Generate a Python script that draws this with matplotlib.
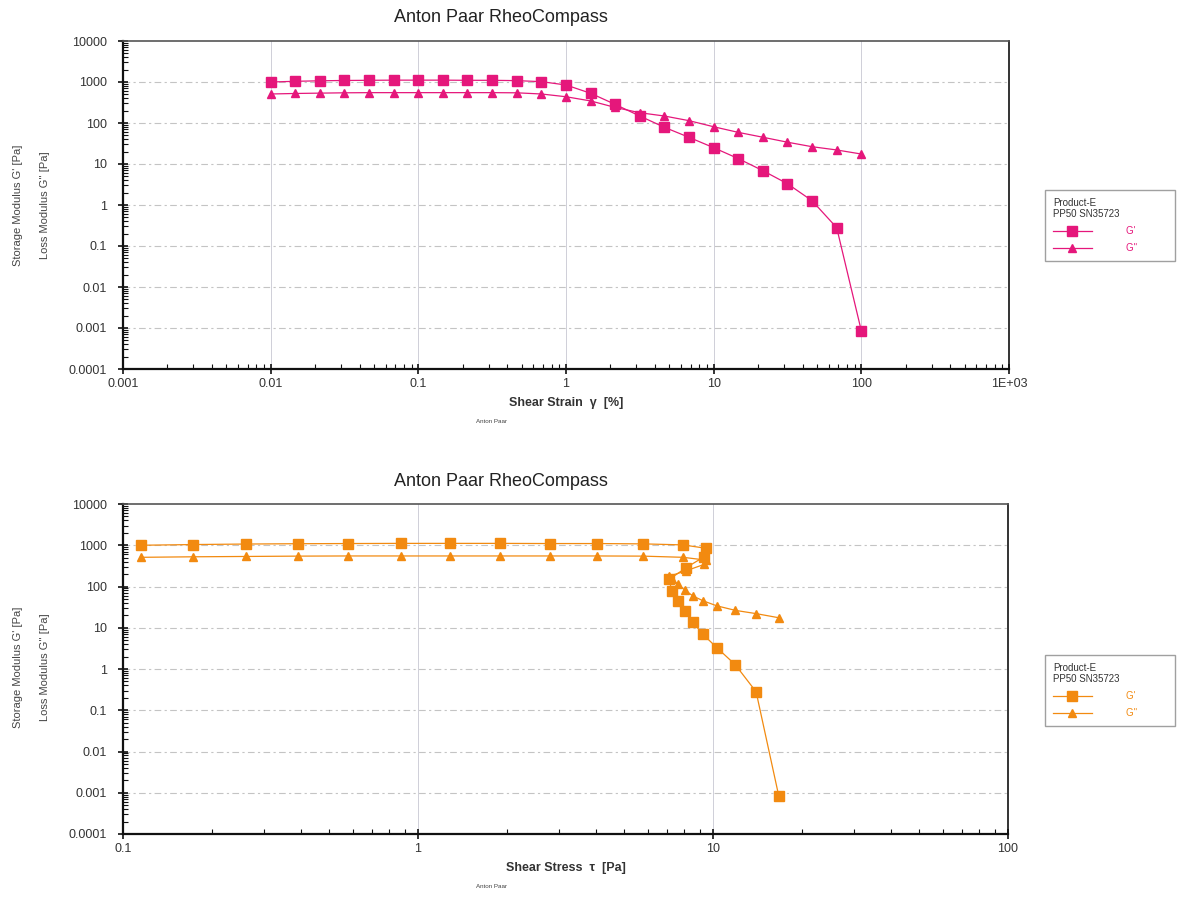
import numpy as np
import matplotlib
matplotlib.use("Agg")
import matplotlib.pyplot as plt
from matplotlib.ticker import LogLocator, FixedLocator, FixedFormatter, NullFormatter

plt.rcParams['font.family'] = ['Liberation Sans', 'DejaVu Sans']

# strain sweep data
strain = [0.01, 0.0147, 0.0215, 0.0316, 0.0464, 0.0681, 0.1, 0.147, 0.215, 0.316,
          0.464, 0.681, 1.0, 1.47, 2.15, 3.16, 4.64, 6.81, 10.0, 14.7,
          21.5, 31.6, 46.4, 68.1, 100.0]
g_storage = [1000, 1040, 1070, 1090, 1100, 1110, 1110, 1110, 1100, 1100,
             1080, 1020, 845, 530, 285, 148, 78.5, 44.7, 25, 13.5,
             6.9, 3.3, 1.27, 0.28, 0.00085]
g_loss = [510, 525, 535, 545, 550, 550, 550, 550, 550, 550,
          545, 510, 437, 345, 240, 178, 148, 114, 81, 59,
          45, 34, 26.4, 22, 17.5]
stress = [0.115, 0.173, 0.261, 0.392, 0.579, 0.876, 1.28, 1.90, 2.80, 4.04,
          5.79, 7.91, 9.46, 9.35, 8.1, 7.1, 7.25, 7.6, 8.04, 8.55,
          9.25, 10.3, 11.9, 14.0, 16.7]

y_ticks = [1e-4, 1e-3, 1e-2, 1e-1, 1, 10, 100, 1000, 10000]
y_labels = ['0.0001', '0.001', '0.01', '0.1', '1', '10', '100', '1000', '10000']
x1_ticks = [1e-3, 1e-2, 1e-1, 1, 10, 100, 1000]
x1_labels = ['0.001', '0.01', '0.1', '1', '10', '100', '1E+03']
x2_ticks = [0.1, 1, 10, 100]
x2_labels = ['0.1', '1', '10', '100']

pink = '#e5177b'
orange = '#f28a10'

W, H = 1185, 899
fig = plt.figure(figsize=(W / 100, H / 100), dpi=100)


def px(x0, y0, x1, y1):
    return [x0 / W, 1 - y1 / H, (x1 - x0) / W, (y1 - y0) / H]


def setup(ax, xticks, xlabels, xlim, xlabel):
    ax.set_xscale('log')
    ax.set_yscale('log')
    ax.set_xlim(xlim)
    ax.set_ylim(1e-4, 1e4)
    ax.yaxis.set_major_locator(FixedLocator(y_ticks))
    ax.yaxis.set_major_formatter(FixedFormatter(y_labels))
    ax.yaxis.set_minor_locator(LogLocator(base=10, subs=np.arange(2, 10), numticks=20))
    ax.yaxis.set_minor_formatter(NullFormatter())
    ax.xaxis.set_major_locator(FixedLocator(xticks))
    ax.xaxis.set_major_formatter(FixedFormatter(xlabels))
    ax.xaxis.set_minor_locator(LogLocator(base=10, subs=np.arange(2, 10), numticks=20))
    ax.xaxis.set_minor_formatter(NullFormatter())
    ax.tick_params(which='major', direction='inout', length=7, width=1.2,
                   labelsize=9, colors='#111111', labelcolor='#333333')
    ax.tick_params(which='minor', direction='in', length=3.5, width=0.8, colors='#111111')
    ax.tick_params(axis='y', which='major', pad=8)
    ax.tick_params(axis='x', which='major', pad=3)
    for s in ['left', 'bottom']:
        ax.spines[s].set_linewidth(1.6)
        ax.spines[s].set_color('#111111')
    ax.spines['right'].set_linewidth(1.2)
    ax.spines['right'].set_color('#111111')
    ax.spines['top'].set_linewidth(1.2)
    ax.spines['top'].set_color('#555555')
    for v in y_ticks[1:-1]:
        ax.axhline(v, color='#c4c4c4', lw=0.8, ls=(0, (6, 3, 2, 3)), zorder=0)
    for v in xticks[1:-1]:
        ax.axvline(v, color='#cfcfd8', lw=0.7, ls='-', zorder=0)
    ax.set_xlabel(xlabel, fontsize=9, fontweight='bold', color='#333333', labelpad=5)


def side_labels(yc):
    fig.text(18 / W, 1 - yc / H, "Storage Modulus G' [Pa]", rotation=90,
             ha='center', va='center', fontsize=8, color='#444444')
    fig.text(45 / W, 1 - yc / H, "Loss Modulus G'' [Pa]", rotation=90,
             ha='center', va='center', fontsize=8, color='#444444')


def add_legend(ax, color, y_top):
    leg = ax.legend(loc='upper left', bbox_to_anchor=(1045 / W, 1 - y_top / H),
                    bbox_transform=fig.transFigure, title='Product-E\nPP50 SN35723',
                    title_fontsize=7, fontsize=7, frameon=True, fancybox=False,
                    edgecolor='#888888', handlelength=4.0, handletextpad=3.5,
                    borderpad=0.8, labelspacing=0.7, alignment='left',
                    borderaxespad=0)
    leg.get_frame().set_linewidth(1.0)
    leg.get_title().set_color('#333333')
    for t in leg.get_texts():
        t.set_color(color)
        t.set_text(t.get_text() + '           ')


# top panel: strain sweep
ax1 = fig.add_axes(px(123, 41, 1009, 369))
setup(ax1, x1_ticks, x1_labels, (1e-3, 1e3), 'Shear Strain  \u03b3  [%]')
ax1.plot(strain, g_storage, color=pink, lw=0.9, marker='s', ms=7.5, mec=pink, label="G'")
ax1.plot(strain, g_loss, color=pink, lw=0.9, marker='^', ms=5.5, mec=pink, label="G''")
add_legend(ax1, pink, 190)
side_labels(205)
fig.text(501 / W, 1 - 18 / H, 'Anton Paar RheoCompass', ha='center', va='center',
         fontsize=13, color='#222222')
fig.text(492 / W, 1 - 422 / H, 'Anton Paar', ha='center', va='center',
         fontsize=4.5, color='#444444')

# bottom panel: same data against shear stress
ax2 = fig.add_axes(px(123, 504, 1008, 834))
setup(ax2, x2_ticks, x2_labels, (0.1, 100), 'Shear Stress  \u03c4  [Pa]')
ax2.plot(stress, g_storage, color=orange, lw=0.9, marker='s', ms=7.5, mec=orange, label="G'")
ax2.plot(stress, g_loss, color=orange, lw=0.9, marker='^', ms=5.5, mec=orange, label="G''")
add_legend(ax2, orange, 655)
side_labels(667)
fig.text(501 / W, 1 - 481 / H, 'Anton Paar RheoCompass', ha='center', va='center',
         fontsize=13, color='#222222')
fig.text(492 / W, 1 - 886 / H, 'Anton Paar', ha='center', va='center',
         fontsize=4.5, color='#444444')

fig.savefig('out.png', dpi=100)
